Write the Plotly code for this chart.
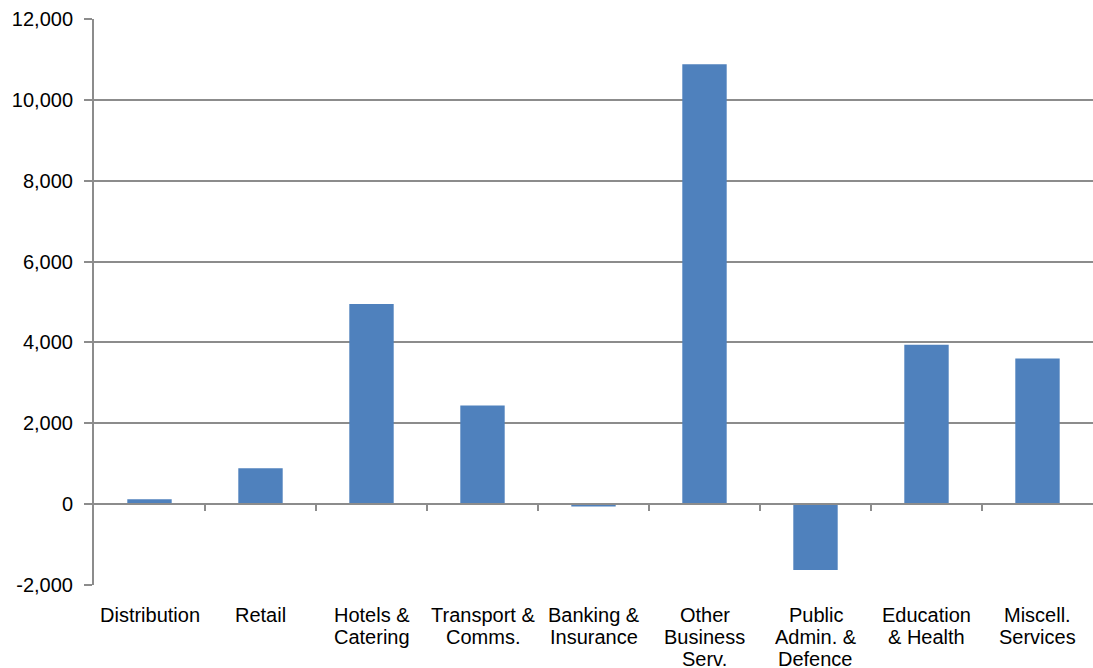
import plotly.graph_objects as go

categories = ["Distribution", "Retail", "Hotels &<br>Catering", "Transport &<br>Comms.",
              "Banking &<br>Insurance", "Other<br>Business<br>Serv.", "Public<br>Admin. &<br>Defence",
              "Education<br>& Health", "Miscell.<br>Services"]
values = [120, 890, 4950, 2440, -60, 10880, -1630, 3940, 3600]
y_ticks = [-2000, 0, 2000, 4000, 6000, 8000, 10000, 12000]
y_ticktext = [f"{v:,}" for v in y_ticks]

y_min, y_max = -2000, 12000
zero_frac = (0 - y_min) / (y_max - y_min)
boundaries = [i + 0.5 for i in range(len(categories) - 1)]
FONT = "Liberation Sans, Arial, sans-serif"

fig = go.Figure()
fig.add_trace(go.Bar(x=list(range(len(categories))), y=values, width=0.4,
                     marker=dict(color="#4F81BD", line=dict(width=0)),
                     showlegend=False, hoverinfo="y"))
# invisible trace to host the category-boundary axis at zero
fig.add_trace(go.Scatter(x=[0, len(categories) - 1], y=[0, 0], xaxis="x2", mode="none",
                         showlegend=False, hoverinfo="skip"))

# category labels, one annotation per line for tight line spacing
annotations = []
for i, cat in enumerate(categories):
    for j, line in enumerate(cat.split("<br>")):
        annotations.append(dict(x=i, xref="x", y=0, yref="paper", text=line,
                                showarrow=False, xanchor="center", yanchor="middle",
                                yshift=-(30 + 22 * j),
                                font=dict(family=FONT, size=20, color="#000000")))

grid = "#8C8C8C"
fig.update_layout(
    width=1093, height=668,
    margin=dict(l=94, r=0, t=19, b=83),
    paper_bgcolor="white", plot_bgcolor="white",
    font=dict(family=FONT, size=20, color="#000000"),
    annotations=annotations,
    xaxis=dict(range=[-0.5, len(categories) - 0.5], showticklabels=False,
               showgrid=False, zeroline=False, showline=False, ticks="", fixedrange=True),
    xaxis2=dict(overlaying="x", anchor="free", position=zero_frac,
                range=[-0.5, len(categories) - 0.5], tickmode="array",
                tickvals=boundaries, showticklabels=False, ticks="outside",
                ticklen=6, tickwidth=2, tickcolor=grid, showline=True,
                linecolor=grid, linewidth=2, showgrid=False, zeroline=False),
    yaxis=dict(range=[y_min, y_max], tickmode="array", tickvals=y_ticks, ticktext=y_ticktext,
               showgrid=True, gridcolor=grid, gridwidth=2, zeroline=False,
               showline=True, linecolor=grid, linewidth=2, ticks="outside",
               ticklen=8, tickwidth=2, tickcolor=grid, ticklabelstandoff=7,
               tickfont=dict(family=FONT, size=20, color="#000000")),
)

fig.write_html("out.html")
